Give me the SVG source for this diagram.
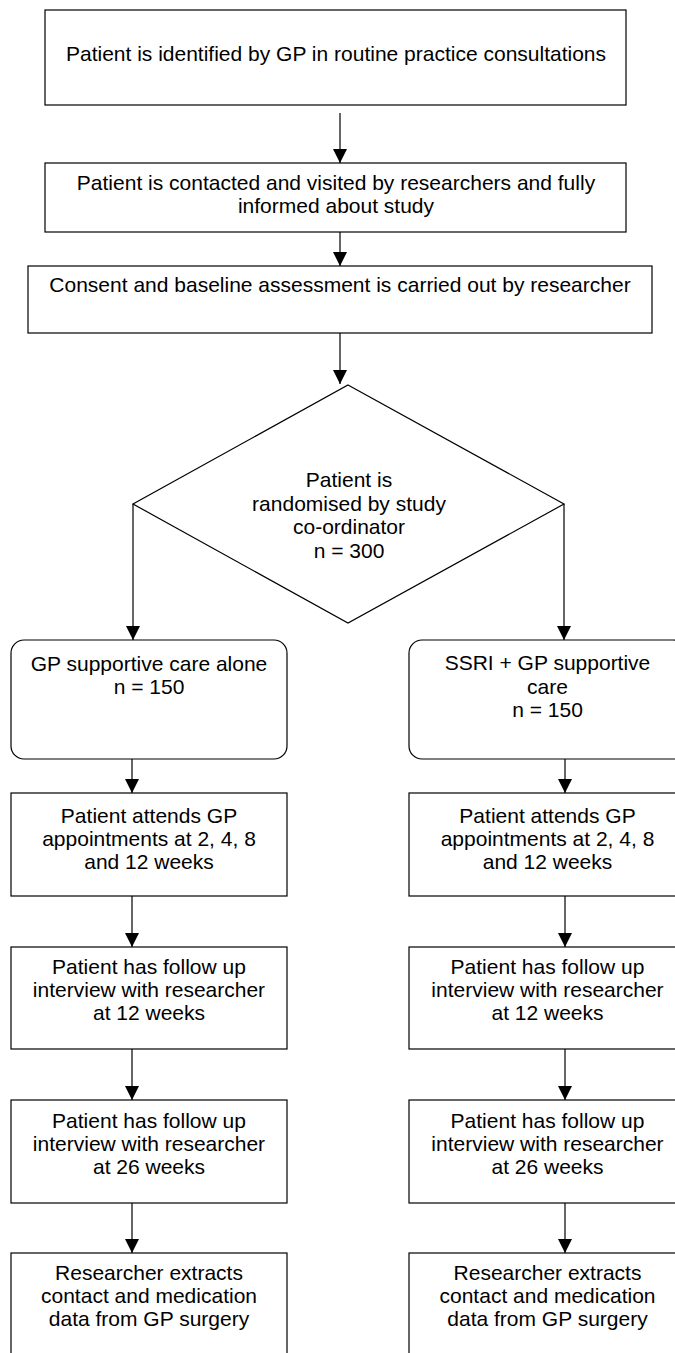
<svg xmlns="http://www.w3.org/2000/svg" width="675" height="1353" viewBox="0 0 675 1353">
<style>
.box{fill:#fff;stroke:#000;stroke-width:1.2}
.t{font-family:"Liberation Sans",Arial,sans-serif;font-size:21px;fill:#000;text-anchor:middle}
.c{fill:none;stroke:#000;stroke-width:1.2}
</style>
<defs>
<marker id="ah" viewBox="0 0 14 14" refX="14" refY="7" markerWidth="14" markerHeight="14" markerUnits="userSpaceOnUse" orient="auto">
<path d="M0,0 L14,7 L0,14 z" fill="#000"/>
</marker>
</defs>
<rect width="675" height="1353" fill="#fff"/>
<g id="connectors">
<line class="c" x1="340" y1="113" x2="340" y2="163" marker-end="url(#ah)"/>
<line class="c" x1="340" y1="232" x2="340" y2="266" marker-end="url(#ah)"/>
<line class="c" x1="340" y1="333" x2="340" y2="384" marker-end="url(#ah)"/>
<line class="c" x1="133" y1="504" x2="133" y2="640" marker-end="url(#ah)"/>
<line class="c" x1="564" y1="504" x2="564" y2="640" marker-end="url(#ah)"/>
<line class="c" x1="132" y1="759" x2="132" y2="793" marker-end="url(#ah)"/>
<line class="c" x1="565" y1="759" x2="565" y2="793" marker-end="url(#ah)"/>
<line class="c" x1="132" y1="896" x2="132" y2="947" marker-end="url(#ah)"/>
<line class="c" x1="565" y1="896" x2="565" y2="947" marker-end="url(#ah)"/>
<line class="c" x1="132" y1="1049" x2="132" y2="1100" marker-end="url(#ah)"/>
<line class="c" x1="565" y1="1049" x2="565" y2="1100" marker-end="url(#ah)"/>
<line class="c" x1="132" y1="1203" x2="132" y2="1253" marker-end="url(#ah)"/>
<line class="c" x1="565" y1="1203" x2="565" y2="1253" marker-end="url(#ah)"/>
</g>
<g id="identified">
<rect class="box" x="45" y="10" width="581" height="95"/>
<text class="t" x="336" y="61">Patient is identified by GP in routine practice consultations</text>
</g>
<g id="contacted">
<rect class="box" x="45" y="163" width="581" height="69"/>
<text class="t" x="336" y="190">Patient is contacted and visited by researchers and fully</text>
<text class="t" x="336" y="213">informed about study</text>
</g>
<g id="consent">
<rect class="box" x="28" y="266" width="624" height="67"/>
<text class="t" x="340" y="292">Consent and baseline assessment is carried out by researcher</text>
</g>
<g id="randomised">
<polygon class="box" points="348,385 564,504 348,623 133,504"/>
<text class="t" x="349" y="487">Patient is</text>
<text class="t" x="349" y="510.5">randomised by study</text>
<text class="t" x="349" y="534">co-ordinator</text>
<text class="t" x="349" y="557.5">n = 300</text>
</g>
<g id="gp-alone">
<rect class="box" x="11" y="640" width="276" height="119" rx="13" ry="13"/>
<text class="t" x="149" y="671">GP supportive care alone</text>
<text class="t" x="149" y="694">n = 150</text>
</g>
<g id="ssri">
<rect class="box" x="409" y="640" width="277" height="119" rx="13" ry="13"/>
<text class="t" x="547.5" y="670">SSRI + GP supportive</text>
<text class="t" x="547.5" y="694">care</text>
<text class="t" x="547.5" y="717">n = 150</text>
</g>
<g id="left-appointments">
<rect class="box" x="11" y="793" width="276" height="103"/>
<text class="t" x="149" y="823">Patient attends GP</text>
<text class="t" x="149" y="846">appointments at 2, 4, 8</text>
<text class="t" x="149" y="869">and 12 weeks</text>
</g>
<g id="right-appointments">
<rect class="box" x="409" y="793" width="277" height="103"/>
<text class="t" x="547.5" y="823">Patient attends GP</text>
<text class="t" x="547.5" y="846">appointments at 2, 4, 8</text>
<text class="t" x="547.5" y="869">and 12 weeks</text>
</g>
<g id="left-followup12">
<rect class="box" x="11" y="947" width="276" height="102"/>
<text class="t" x="149" y="974">Patient has follow up</text>
<text class="t" x="149" y="997">interview with researcher</text>
<text class="t" x="149" y="1020">at 12 weeks</text>
</g>
<g id="right-followup12">
<rect class="box" x="409" y="947" width="277" height="102"/>
<text class="t" x="547.5" y="974">Patient has follow up</text>
<text class="t" x="547.5" y="997">interview with researcher</text>
<text class="t" x="547.5" y="1020">at 12 weeks</text>
</g>
<g id="left-followup26">
<rect class="box" x="11" y="1100" width="276" height="103"/>
<text class="t" x="149" y="1128">Patient has follow up</text>
<text class="t" x="149" y="1151">interview with researcher</text>
<text class="t" x="149" y="1174">at 26 weeks</text>
</g>
<g id="right-followup26">
<rect class="box" x="409" y="1100" width="277" height="103"/>
<text class="t" x="547.5" y="1128">Patient has follow up</text>
<text class="t" x="547.5" y="1151">interview with researcher</text>
<text class="t" x="547.5" y="1174">at 26 weeks</text>
</g>
<g id="left-extract">
<rect class="box" x="11" y="1253" width="276" height="103"/>
<text class="t" x="149" y="1280">Researcher extracts</text>
<text class="t" x="149" y="1303">contact and medication</text>
<text class="t" x="149" y="1326">data from GP surgery</text>
</g>
<g id="right-extract">
<rect class="box" x="409" y="1253" width="277" height="103"/>
<text class="t" x="547.5" y="1280">Researcher extracts</text>
<text class="t" x="547.5" y="1303">contact and medication</text>
<text class="t" x="547.5" y="1326">data from GP surgery</text>
</g>
</svg>
